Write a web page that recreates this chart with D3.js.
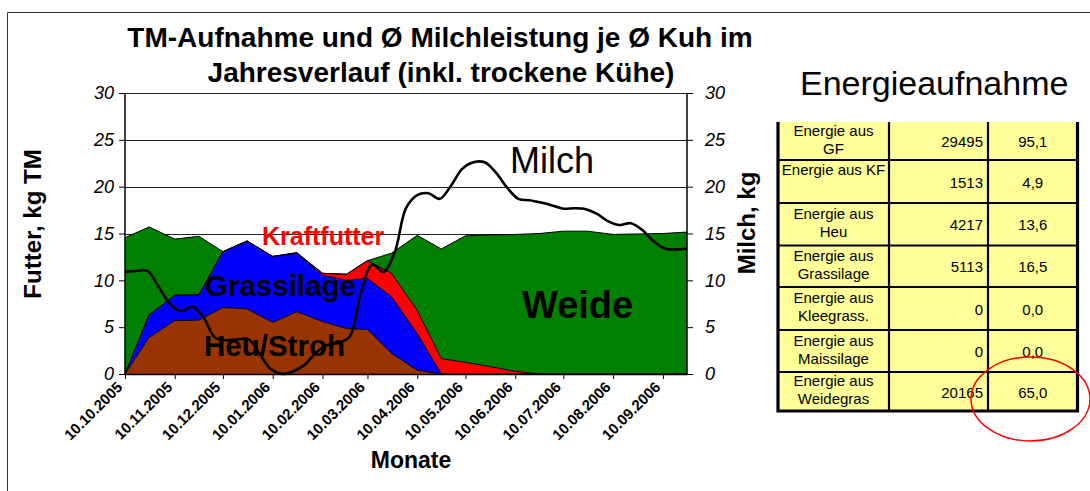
<!DOCTYPE html>
<html><head><meta charset="utf-8">
<script src="https://cdn.jsdelivr.net/npm/d3@7"></script>
<style>
body{margin:0;background:#fff;}
svg{display:block;font-family:"Liberation Sans",Arial,sans-serif;}
</style>
</head><body><svg id="c" width="1090" height="491"></svg>
<script>
// ---------- data ----------
const feedDates = ["2005-10-10","2005-10-25","2005-11-10","2005-11-25","2005-12-10","2005-12-25","2006-01-10","2006-01-25","2006-02-10","2006-02-25","2006-03-10","2006-03-25","2006-04-10","2006-04-25","2006-05-10","2006-05-25","2006-06-10","2006-06-25","2006-07-10","2006-07-25","2006-08-10","2006-08-25","2006-09-10","2006-09-25"];
const heuStroh    = [0,3.9,5.7,5.75,7.1,6.95,5.5,6.65,5.6,4.85,4.75,2.2,0.4,0,0,0,0,0,0,0,0,0,0,0];
const grassilage  = [0,2.4,2.7,2.7,5.96,7.25,7.05,6.25,4.95,5.15,5.45,6.05,3.9,0,0,0,0,0,0,0,0,0,0,0];
const kraftfutter = [0,0,0,0,0,0,0,0.05,0.2,0.65,1.9,2.5,2.5,1.65,1.25,0.8,0.3,0,0,0,0,0,0,0];
const weide       = [14.55,9.4,6.0,6.25,0,0,0,0,0,0,0,2.15,8.0,11.7,13.5,14.05,14.6,15.0,15.25,15.25,14.9,14.95,15.0,15.15];

const milkDates = ["2005-10-10","2005-10-17","2005-10-24","2005-10-31","2005-11-07","2005-11-14","2005-11-21","2005-11-28","2005-12-05","2005-12-12","2005-12-19","2005-12-26","2006-01-02","2006-01-09","2006-01-16","2006-01-23","2006-01-30","2006-02-06","2006-02-13","2006-02-20","2006-02-27","2006-03-06","2006-03-13","2006-03-20","2006-03-27","2006-04-03","2006-04-10","2006-04-17","2006-04-24","2006-05-01","2006-05-08","2006-05-15","2006-05-22","2006-05-29","2006-06-05","2006-06-12","2006-06-19","2006-06-26","2006-07-03","2006-07-10","2006-07-17","2006-07-24","2006-07-31","2006-08-07","2006-08-14","2006-08-21","2006-08-28","2006-09-04","2006-09-11","2006-09-18","2006-09-25"];
const milch = [10.9,11.0,11.0,9.3,7.5,6.7,7.2,6.0,3.9,3.6,3.7,3.7,2.1,0.5,0.0,0.3,1.0,2.3,3.1,3.3,4.0,8.8,11.7,10.9,13.0,17.7,19.1,19.3,18.7,20.1,21.9,22.6,22.6,21.5,19.9,18.7,18.55,18.3,18.0,17.65,17.7,17.6,17.1,16.3,15.9,16.1,15.4,14.2,13.4,13.3,13.4];

const xTickDates = ["2005-10-10","2005-11-10","2005-12-10","2006-01-10","2006-02-10","2006-03-10","2006-04-10","2006-05-10","2006-06-10","2006-07-10","2006-08-10","2006-09-10"];
const yTicks = [0,5,10,15,20,25,30];

const tableLabels  = [["Energie aus","GF"],["Energie aus KF"],["Energie aus","Heu"],["Energie aus","Grassilage"],["Energie aus","Kleegrass."],["Energie aus","Maissilage"],["Energie aus","Weidegras"]];
const tableEnergy  = ["29495","1513","4217","5113","0","0","20165"];
const tablePercent = ["95,1","4,9","13,6","16,5","0,0","0,0","65,0"];

// ---------- chart ----------
const svg = d3.select("#c");
const parse = d3.timeParse("%Y-%m-%d");
const fmt = d3.timeFormat("%d.%m.%Y");

const x = d3.scaleTime().domain([parse(feedDates[0]), parse(feedDates[feedDates.length-1])]).range([125, 687]);
const y = d3.scaleLinear().domain([0,30]).range([374, 93]);

// frame
svg.append("path").attr("d","M7.5,491 V12.5 H1090").attr("fill","none").attr("stroke","#333").attr("stroke-width",1);

// title
const title = svg.append("text").attr("text-anchor","middle").attr("font-weight","bold").attr("font-size",28).attr("fill","#000");
title.append("tspan").attr("x",440).attr("y",47).text("TM-Aufnahme und Ø Milchleistung je Ø Kuh im");
title.append("tspan").attr("x",441).attr("y",82).text("Jahresverlauf (inkl. trockene Kühe)");

// gridlines
svg.append("g").selectAll("line").data(yTicks.filter(d=>d>0)).join("line")
  .attr("x1",125).attr("x2",687).attr("y1",d=>Math.round(y(d))+0.5).attr("y2",d=>Math.round(y(d))+0.5)
  .attr("stroke","#222").attr("stroke-width",1);

// stacked areas
const keys = ["heu","gras","kf","weide"];
const colors = {heu:"#993300", gras:"#0000FF", kf:"#FF0000", weide:"#008000"};
const rows = feedDates.map((d,i)=>({date:parse(d), heu:heuStroh[i], gras:grassilage[i], kf:kraftfutter[i], weide:weide[i]}));
const series = d3.stack().keys(keys)(rows);
const area = d3.area().x(d=>x(d.data.date)).y0(d=>y(d[0])).y1(d=>y(d[1]));
const topLine = d3.line().x(d=>x(d.data.date)).y(d=>y(d[1]));
const gA = svg.append("g");
gA.selectAll("path.a").data(series).join("path").attr("class","a")
  .attr("d",area).attr("fill",s=>colors[s.key]);
gA.selectAll("path.t").data(series).join("path").attr("class","t")
  .attr("d",topLine).attr("fill","none").attr("stroke","#000").attr("stroke-width",1);

// milk line
const milkData = milkDates.map((d,i)=>({date:parse(d), v:milch[i]}));
svg.append("path").datum(milkData)
  .attr("d", d3.line().x(d=>x(d.date)).y(d=>y(d.v)).curve(d3.curveCatmullRom.alpha(0.5)))
  .attr("fill","none").attr("stroke","#000").attr("stroke-width",2.6).attr("stroke-linejoin","round");

// in-chart labels
svg.append("text").attr("x",262).attr("y",245).attr("font-size",25).attr("font-weight","bold").attr("fill","#FF0000").text("Kraftfutter");
svg.append("text").attr("x",205).attr("y",296).attr("font-size",29.5).attr("font-weight","bold").attr("fill","#000").text("Grassilage");
svg.append("text").attr("x",204).attr("y",356).attr("font-size",29.5).attr("font-weight","bold").attr("fill","#000").text("Heu/Stroh");
svg.append("text").attr("x",522).attr("y",318).attr("font-size",38).attr("font-weight","bold").attr("fill","#000").text("Weide");
svg.append("text").attr("x",510).attr("y",173).attr("font-size",36).attr("fill","#000").text("Milch");

// axes
const yl = svg.append("g").attr("transform","translate(125,0)")
  .call(d3.axisLeft(y).tickValues(yTicks).tickSize(6).tickPadding(5));
const yr = svg.append("g").attr("transform","translate(687,0)")
  .call(d3.axisRight(y).tickValues(yTicks).tickSize(6).tickPadding(12));
[yl,yr].forEach(g=>{
  g.select(".domain").attr("stroke","#000").attr("stroke-width",1.5).attr("d","M0,93V374");
  g.selectAll(".tick line").attr("stroke","#000");
  g.selectAll(".tick text").attr("font-size",18).attr("font-style","italic").attr("font-family","Liberation Sans, Arial, sans-serif").attr("fill","#000");
});
const xa = svg.append("g").attr("transform","translate(0,374)")
  .call(d3.axisBottom(x).tickValues(xTickDates.map(parse)).tickFormat(fmt).tickSize(5).tickSizeOuter(0));
xa.select(".domain").attr("stroke","#000").attr("stroke-width",1.5);
xa.selectAll(".tick line").attr("stroke","#000");
xa.selectAll(".tick text").attr("font-size",15).attr("font-weight","bold").attr("font-family","Liberation Sans, Arial, sans-serif").attr("fill","#000")
  .attr("text-anchor","end").attr("dy",null).attr("y",0)
  .attr("transform","translate(-2,14) rotate(-45)");

// axis titles
svg.append("text").attr("transform","translate(41,224) rotate(-90)").attr("text-anchor","middle")
  .attr("font-size",24).attr("font-weight","bold").text("Futter, kg TM");
svg.append("text").attr("transform","translate(755,223) rotate(-90)").attr("text-anchor","middle")
  .attr("font-size",24).attr("font-weight","bold").text("Milch, kg");
svg.append("text").attr("x",411).attr("y",468).attr("text-anchor","middle")
  .attr("font-size",23).attr("font-weight","bold").text("Monate");

// ---------- table ----------
svg.append("text").attr("x",800).attr("y",95).attr("font-size",34).attr("fill","#000").text("Energieaufnahme");

const rowEdges = [122,160,203,245.5,287,330,372,411];
const colEdges = [778,889,988,1077.5];
const tb = svg.append("g");
tb.append("rect").attr("x",colEdges[0]).attr("y",rowEdges[0]).attr("width",colEdges[3]-colEdges[0]).attr("height",rowEdges[7]-rowEdges[0]).attr("fill","#FFFF99");
tb.selectAll("line.h").data(rowEdges.slice(1,7)).join("line").attr("class","h")
  .attr("x1",colEdges[0]).attr("x2",colEdges[3]).attr("y1",d=>d).attr("y2",d=>d).attr("stroke","#000").attr("stroke-width",2.2);
tb.selectAll("line.v").data(colEdges.slice(1,3)).join("line").attr("class","v")
  .attr("x1",d=>d).attr("x2",d=>d).attr("y1",rowEdges[0]).attr("y2",rowEdges[7]).attr("stroke","#000").attr("stroke-width",2.2);
tb.append("path").attr("d",`M${colEdges[0]},${rowEdges[0]}V${rowEdges[7]}H${colEdges[3]}V${rowEdges[0]}`)
  .attr("fill","none").attr("stroke","#000").attr("stroke-width",3.2);

tableLabels.forEach((lab,i)=>{
  const top = rowEdges[i], bot = rowEdges[i+1], mid = (top+bot)/2;
  const cx = (colEdges[0]+colEdges[1])/2;
  if (lab.length===1) {
    tb.append("text").attr("x",cx).attr("y",top+15).attr("text-anchor","middle").attr("font-size",15).text(lab[0]);
  } else {
    tb.append("text").attr("x",cx).attr("y",mid-5.5).attr("text-anchor","middle").attr("font-size",15).text(lab[0]);
    tb.append("text").attr("x",cx).attr("y",mid+12.5).attr("text-anchor","middle").attr("font-size",15).text(lab[1]);
  }
  tb.append("text").attr("x",colEdges[2]-5).attr("y",mid+6).attr("text-anchor","end").attr("font-size",15).text(tableEnergy[i]);
  tb.append("text").attr("x",(colEdges[2]+colEdges[3])/2).attr("y",mid+6).attr("text-anchor","middle").attr("font-size",15).text(tablePercent[i]);
});

// red highlight ellipse
svg.append("ellipse").attr("cx",1030.5).attr("cy",399).attr("rx",59.5).attr("ry",42)
  .attr("fill","none").attr("stroke","#FF0000").attr("stroke-width",1.5);
</script>
</body></html>
